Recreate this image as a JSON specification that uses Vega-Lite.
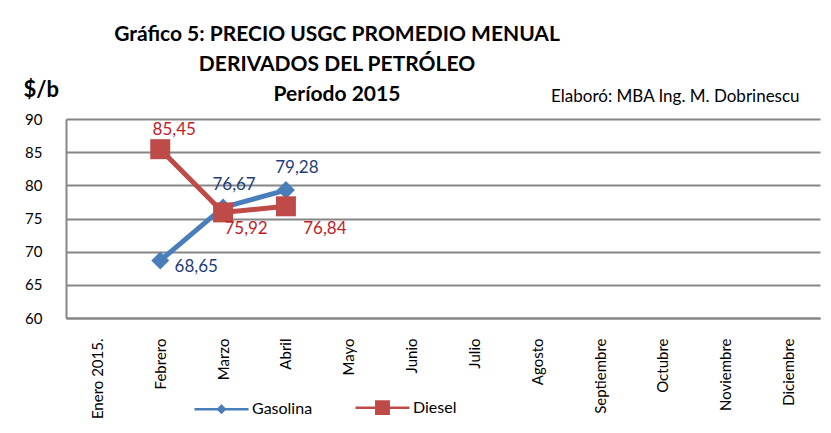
{
  "$schema": "https://vega.github.io/schema/vega-lite/v6.json",
  "autosize": {"type": "none"},
  "width": 754,
  "height": 199,
  "padding": {"left": 66, "top": 119, "right": 11, "bottom": 115},
  "background": "white",
  "config": {
    "font": "Lato",
    "locale": {"number": {"decimal": ",", "thousands": ".", "grouping": [3], "currency": ["", ""]}},
    "view": {"stroke": null},
    "axisX": {
      "title": null,
      "labelAngle": -90,
      "labelAlign": "right",
      "labelBaseline": "middle",
      "labelPadding": 20,
      "labelFont": "Lato",
      "labelFontSize": 15,
      "labelColor": "black",
      "ticks": false,
      "grid": false,
      "domainColor": "#868686",
      "domainWidth": 2
    },
    "axisY": {
      "titleAngle": 0,
      "titleAlign": "left",
      "titleBaseline": "alphabetic",
      "titleX": -43,
      "titleY": -23,
      "titleFont": "Lato",
      "titleFontSize": 22,
      "titleFontWeight": "bold",
      "titleColor": "black",
      "labelFont": "Lato",
      "labelFontSize": 15,
      "labelColor": "black",
      "labelPadding": 24,
      "ticks": false,
      "grid": true,
      "gridColor": "#868686",
      "gridWidth": 2,
      "domainColor": "#868686",
      "domainWidth": 2
    }
  },
  "title": {
    "text": ["Gráfico 5: PRECIO USGC PROMEDIO MENUAL", "DERIVADOS DEL PETRÓLEO", "Período 2015"],
    "font": "Lato",
    "fontSize": 21,
    "fontWeight": "bold",
    "lineHeight": 30,
    "anchor": "middle",
    "dx": -106,
    "offset": -27,
    "color": "black"
  },
  "datasets": {
    "prices": [
      {"month": "Febrero", "series": "Gasolina", "price": 68.65},
      {"month": "Marzo", "series": "Gasolina", "price": 76.67},
      {"month": "Abril", "series": "Gasolina", "price": 79.28},
      {"month": "Febrero", "series": "Diesel", "price": 85.45},
      {"month": "Marzo", "series": "Diesel", "price": 75.92},
      {"month": "Abril", "series": "Diesel", "price": 76.84}
    ],
    "note": [{"label": "Elaboró: MBA Ing. M. Dobrinescu"}]
  },
  "layer": [
    {
      "data": {"name": "prices"},
      "encoding": {
        "x": {
          "field": "month",
          "type": "ordinal",
          "scale": {"domain": ["Enero 2015.", "Febrero", "Marzo", "Abril", "Mayo", "Junio", "Julio", "Agosto", "Septiembre", "Octubre", "Noviembre", "Diciembre"]},
          "axis": {"title": null}
        },
        "y": {
          "field": "price",
          "type": "quantitative",
          "scale": {"domain": [60, 90], "nice": false, "zero": false},
          "axis": {"title": "$/b", "values": [60, 65, 70, 75, 80, 85, 90]}
        }
      },
      "layer": [
        {
          "mark": {"type": "line", "strokeWidth": 5},
          "encoding": {
            "color": {
              "field": "series",
              "type": "nominal",
              "scale": {"domain": ["Gasolina", "Diesel"], "range": ["#4a7ebb", "#be4b48"]},
              "legend": {
                "title": null,
                "orient": "none",
                "legendX": 127,
                "legendY": 260,
                "direction": "horizontal",
                "symbolSize": 2916,
                "labelFont": "Lato",
                "labelFontSize": 16,
                "labelColor": "black",
                "labelOffset": 2,
                "columnPadding": 37,
                "encode": {
                  "symbols": {
                    "update": {
                      "shape": {"signal": "datum.value === 'Gasolina' ? 'M-1,0H1M0,-0.12L0.12,0L0,0.12L-0.12,0Z' : 'M-1,0H1M-0.23,-0.23H0.23V0.23H-0.23Z'"},
                      "fill": {"scale": "color", "field": "value"},
                      "stroke": {"scale": "color", "field": "value"},
                      "strokeWidth": {"value": 2.5},
                      "opacity": {"value": 1}
                    }
                  }
                }
              }
            }
          }
        },
        {
          "transform": [{"filter": "datum.series === 'Gasolina'"}],
          "mark": {"type": "point", "shape": "diamond", "size": 324, "filled": true, "opacity": 1},
          "encoding": {"color": {"field": "series", "type": "nominal"}}
        },
        {
          "transform": [{"filter": "datum.series === 'Diesel'"}],
          "mark": {"type": "point", "shape": "square", "size": 400, "filled": true, "opacity": 1},
          "encoding": {"color": {"field": "series", "type": "nominal"}}
        },
        {
          "transform": [{"filter": "datum.series === 'Gasolina' && datum.month !== 'Febrero'"}],
          "mark": {"type": "text", "dx": 11, "dy": -22, "fontSize": 17, "font": "Lato", "color": "#1f3d7a"},
          "encoding": {"text": {"field": "price", "type": "quantitative", "format": ".2f"}}
        },
        {
          "transform": [{"filter": "datum.series === 'Gasolina' && datum.month === 'Febrero'"}],
          "mark": {"type": "text", "dx": 36, "dy": 6, "fontSize": 17, "font": "Lato", "color": "#1f3d7a"},
          "encoding": {"text": {"field": "price", "type": "quantitative", "format": ".2f"}}
        },
        {
          "transform": [{"filter": "datum.series === 'Diesel' && datum.month === 'Febrero'"}],
          "mark": {"type": "text", "dx": 14, "dy": -19, "fontSize": 17, "font": "Lato", "color": "#c0202a"},
          "encoding": {"text": {"field": "price", "type": "quantitative", "format": ".2f"}}
        },
        {
          "transform": [{"filter": "datum.series === 'Diesel' && datum.month === 'Marzo'"}],
          "mark": {"type": "text", "dx": 23, "dy": 17, "fontSize": 17, "font": "Lato", "color": "#c0202a"},
          "encoding": {"text": {"field": "price", "type": "quantitative", "format": ".2f"}}
        },
        {
          "transform": [{"filter": "datum.series === 'Diesel' && datum.month === 'Abril'"}],
          "mark": {"type": "text", "dx": 39, "dy": 23, "fontSize": 17, "font": "Lato", "color": "#c0202a"},
          "encoding": {"text": {"field": "price", "type": "quantitative", "format": ".2f"}}
        }
      ]
    },
    {
      "data": {"name": "note"},
      "mark": {"type": "text", "align": "right", "baseline": "alphabetic", "dx": 11, "dy": -17, "fontSize": 17, "font": "Lato", "color": "black"},
      "encoding": {
        "x": {"datum": "Diciembre", "type": "ordinal", "axis": {"title": null}},
        "y": {"datum": 90, "type": "quantitative", "axis": {"title": "$/b", "values": [60, 65, 70, 75, 80, 85, 90]}},
        "text": {"field": "label", "type": "nominal"}
      }
    }
  ]
}
